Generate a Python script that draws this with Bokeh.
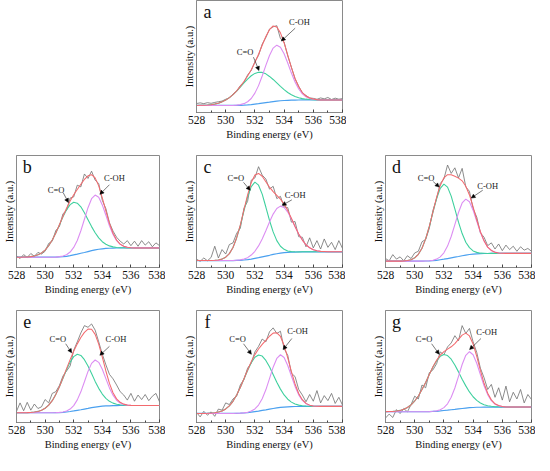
import numpy as np
from bokeh.plotting import figure
from bokeh.models import Range1d, Label, Arrow, NormalHead, Spacer, ColumnDataSource, FixedTicker
from bokeh.layouts import row, column
from bokeh.embed import file_html
from bokeh.resources import INLINE

# ---------------- data ----------------
EV = [528.0, 528.25, 528.5, 528.75, 529.0, 529.25, 529.5, 529.75, 530.0, 530.25,
      530.5, 530.75, 531.0, 531.25, 531.5, 531.75, 532.0, 532.25, 532.5, 532.75,
      533.0, 533.25, 533.5, 533.75, 534.0, 534.25, 534.5, 534.75, 535.0, 535.25,
      535.5, 535.75, 536.0, 536.25, 536.5, 536.75, 537.0, 537.25, 537.5, 537.75, 538.0]
X_TICKS = [528, 530, 532, 534, 536, 538]
X_MINOR = [529, 531, 533, 535, 537]
X_LABEL = "Binding energy (eV)"
Y_LABEL = "Intensity (a.u.)"
PEAK_CO = "C=O"
PEAK_COH = "C-OH"

# panel a
A_BG = [6.3, 6.3, 6.3, 6.3, 6.3, 6.3, 6.3, 6.3, 6.3, 6.3, 6.3, 6.35, 6.45, 6.6, 6.8, 7.1, 7.5, 7.9, 8.4, 8.8,
        9.2, 9.7, 10.1, 10.5, 10.7, 10.9, 11.0, 11.1, 11.15, 11.2, 11.2, 11.2, 11.2, 11.2, 11.2, 11.2, 11.2, 11.2, 11.2, 11.2, 11.2]
A_CO = [0, 0.1, 0.2, 0.4, 0.7, 1.2, 2.0, 3.2, 4.8, 7.0, 9.7, 12.8, 16.3, 19.8, 23.0, 25.7, 27.4, 28.0, 27.4, 25.7,
        23.0, 19.8, 16.3, 12.8, 9.7, 7.0, 4.8, 3.2, 2.0, 1.2, 0.7, 0.4, 0.2, 0.1, 0, 0, 0, 0, 0, 0, 0]
A_COH = [0, 0, 0, 0, 0, 0, 0, 0, 0, 0, 0, 0.2, 0.6, 1.3, 2.8, 5.4, 9.8, 16.1, 24.2, 33.3,
         41.7, 47.8, 50.0, 47.8, 41.7, 33.3, 24.2, 16.1, 9.8, 5.4, 2.8, 1.3, 0.6, 0.2, 0, 0, 0, 0, 0, 0, 0]
A_RAW = [8.0, 8.6, 7.9, 8.8, 8.2, 9.0, 9.6, 10.2, 11.8, 13.0, 16.5, 19.0, 24.0, 27.0, 33.5, 37.5, 45.5, 51.0, 61.0, 67.0,
         74.5, 76.5, 77.5, 66.0, 63.0, 50.5, 40.5, 30.0, 23.5, 17.5, 15.2, 13.0, 12.6, 11.8, 13.0, 12.2, 13.4, 11.6, 12.8, 11.9, 12.4]

# panel b
B_BG = [9.2, 9.2, 9.2, 9.2, 9.2, 9.2, 9.2, 9.2, 9.2, 9.2, 9.2, 9.3, 9.5, 9.7, 10.0, 10.6, 11.3, 11.9, 12.7, 13.4,
        14.2, 15.0, 15.7, 16.3, 16.7, 17.0, 17.2, 17.3, 17.4, 17.5, 17.5, 17.5, 17.5, 17.5, 17.5, 17.5, 17.5, 17.5, 17.5, 17.5, 17.5]
B_CO = [0, 0, 0.1, 0.2, 0.5, 1.1, 2.1, 3.8, 6.3, 10.2, 15.3, 21.5, 28.5, 35.5, 41.5, 45.5, 47.0, 45.5, 41.5, 35.5,
        28.5, 21.5, 15.3, 10.2, 6.3, 3.8, 2.1, 1.1, 0.5, 0.2, 0.1, 0, 0, 0, 0, 0, 0, 0, 0, 0, 0]
B_COH = [0, 0, 0, 0, 0, 0, 0, 0, 0, 0, 0, 0, 0.2, 0.5, 1.4, 3.2, 6.6, 12.2, 20.1, 29.7,
         39.2, 46.4, 49.0, 46.4, 39.2, 29.7, 20.1, 12.2, 6.6, 3.2, 1.4, 0.5, 0.2, 0, 0, 0, 0, 0, 0, 0, 0]
B_RAW = [10.5, 8.0, 11.5, 9.0, 12.5, 10.0, 13.5, 12.0, 14.5, 21.5, 23.5, 33.0, 36.5, 48.0, 51.0, 62.0, 63.0, 73.5, 72.0, 83.5,
         79.5, 86.0, 78.0, 75.0, 60.0, 52.5, 40.0, 32.5, 27.0, 23.5, 21.0, 24.0, 19.5, 23.5, 19.0, 24.0, 20.0, 23.0, 18.5, 22.0, 19.5]

# panel c
C_BG = [6.2, 6.2, 6.2, 6.2, 6.2, 6.2, 6.2, 6.2, 6.2, 6.2, 6.2, 6.3, 6.4, 6.7, 7.0, 7.5, 8.2, 8.8, 9.5, 10.2,
        10.9, 11.7, 12.3, 12.8, 13.2, 13.5, 13.7, 13.8, 13.9, 14.0, 14.0, 14.0, 14.0, 14.0, 14.0, 14.0, 14.0, 14.0, 14.0, 14.0, 14.0]
C_CO = [0, 0, 0, 0, 0, 0.2, 0.5, 1.3, 3.0, 6.2, 11.7, 20.1, 31.1, 43.8, 56.0, 64.7, 68.0, 64.7, 56.0, 43.8,
        31.1, 20.1, 11.7, 6.2, 3.0, 1.3, 0.5, 0.2, 0, 0, 0, 0, 0, 0, 0, 0, 0, 0, 0, 0, 0]
C_COH = [0, 0, 0, 0, 0, 0, 0, 0, 0, 0, 0, 0.2, 0.4, 0.9, 1.8, 3.6, 6.3, 10.5, 16.0, 22.6,
         29.7, 36.0, 40.4, 42.0, 40.4, 36.0, 29.7, 22.6, 16.0, 10.5, 6.3, 3.6, 1.8, 0.9, 0.4, 0.2, 0, 0, 0, 0, 0]
C_RAW = [7.5, 5.5, 8.5, 6.0, 9.0, 19.0, 8.5, 16.0, 12.0, 20.5, 22.0, 30.5, 35.0, 53.0, 59.0, 78.0, 80.0, 90.0, 82.5, 79.0,
         70.0, 72.5, 61.5, 63.5, 54.0, 53.5, 40.5, 41.0, 27.5, 27.0, 18.5, 26.5, 17.5, 24.0, 16.5, 25.5, 18.0, 22.5, 16.0, 24.0, 17.0]

# panel d
D_BG = [5.7, 5.7, 5.7, 5.7, 5.7, 5.7, 5.7, 5.7, 5.7, 5.7, 5.7, 5.8, 5.9, 6.1, 6.4, 6.9, 7.4, 8.0, 8.6, 9.2,
        9.8, 10.5, 11.1, 11.6, 11.9, 12.2, 12.3, 12.5, 12.5, 12.6, 12.6, 12.6, 12.6, 12.6, 12.6, 12.6, 12.6, 12.6, 12.6, 12.6, 12.6]
D_CO = [0, 0, 0, 0, 0, 0.2, 0.5, 1.3, 2.9, 6.1, 11.5, 19.8, 30.7, 43.1, 55.1, 63.8, 67.0, 63.8, 55.1, 43.1,
        30.7, 19.8, 11.5, 6.1, 2.9, 1.3, 0.5, 0.2, 0, 0, 0, 0, 0, 0, 0, 0, 0, 0, 0, 0, 0]
D_COH = [0, 0, 0, 0, 0, 0, 0, 0, 0, 0, 0, 0, 0.1, 0.4, 1.1, 2.6, 5.7, 11.1, 19.1, 29.1,
         39.3, 47.1, 50.0, 47.1, 39.3, 29.1, 19.1, 11.1, 5.7, 2.6, 1.1, 0.4, 0.1, 0, 0, 0, 0, 0, 0, 0, 0]
D_RAW = [8.0, 6.0, 11.5, 7.5, 9.5, 6.0, 10.5, 8.0, 13.0, 14.5, 23.0, 25.0, 35.0, 51.0, 61.5, 75.0, 79.0, 91.5, 84.0, 89.0,
         80.0, 88.5, 72.0, 68.0, 52.5, 45.0, 31.0, 27.0, 19.5, 22.0, 16.5, 21.0, 15.0, 20.0, 16.0, 19.0, 14.5, 18.5, 15.5, 17.0, 14.5]

# panel e
E_BG = [8.7, 8.7, 8.7, 8.7, 8.7, 8.7, 8.7, 8.7, 8.7, 8.7, 8.7, 8.8, 8.9, 9.1, 9.4, 9.8, 10.3, 10.9, 11.4, 12.0,
        12.6, 13.3, 13.8, 14.2, 14.6, 14.8, 14.9, 15.1, 15.1, 15.2, 15.2, 15.2, 15.2, 15.2, 15.2, 15.2, 15.2, 15.2, 15.2, 15.2, 15.2]
E_CO = [0, 0, 0, 0.1, 0.3, 0.6, 1.2, 2.2, 4.0, 6.8, 10.8, 16.3, 22.9, 30.4, 37.8, 44.1, 48.5, 50.0, 48.5, 44.1,
        37.8, 30.4, 22.9, 16.3, 10.8, 6.8, 4.0, 2.2, 1.2, 0.6, 0.3, 0.1, 0, 0, 0, 0, 0, 0, 0, 0, 0]
E_COH = [0, 0, 0, 0, 0, 0, 0, 0, 0, 0, 0, 0, 0.1, 0.3, 0.9, 2.2, 4.8, 9.3, 16.0, 24.4,
         33.0, 39.5, 42.0, 39.5, 33.0, 24.4, 16.0, 9.3, 4.8, 2.2, 0.9, 0.3, 0.1, 0, 0, 0, 0, 0, 0, 0, 0]
E_RAW = [10.0, 17.5, 10.5, 18.0, 11.0, 16.5, 12.5, 14.0, 20.5, 17.5, 26.0, 27.5, 33.0, 41.5, 46.0, 50.5, 64.5, 72.0, 80.0, 86.5,
         85.0, 88.0, 82.5, 72.0, 61.0, 51.5, 43.0, 39.0, 33.5, 27.5, 24.5, 20.0, 26.0, 19.0, 24.5, 20.5, 25.0, 19.5, 23.5, 26.0, 18.5]

# panel f
F_BG = [8.1, 8.1, 8.1, 8.1, 8.1, 8.1, 8.1, 8.1, 8.1, 8.1, 8.1, 8.2, 8.3, 8.5, 8.7, 9.2, 9.7, 10.2, 10.8, 11.3,
        11.9, 12.5, 13.0, 13.5, 13.8, 14.0, 14.2, 14.3, 14.3, 14.4, 14.4, 14.4, 14.4, 14.4, 14.4, 14.4, 14.4, 14.4, 14.4, 14.4, 14.4]
F_CO = [0, 0, 0, 0.1, 0.3, 0.6, 1.2, 2.2, 4.0, 6.8, 10.8, 16.3, 22.9, 30.4, 37.8, 44.1, 48.5, 50.0, 48.5, 44.1,
        37.8, 30.4, 22.9, 16.3, 10.8, 6.8, 4.0, 2.2, 1.2, 0.6, 0.3, 0.1, 0, 0, 0, 0, 0, 0, 0, 0, 0]
F_COH = [0, 0, 0, 0, 0, 0, 0, 0, 0, 0, 0, 0, 0, 0.1, 0.4, 1.0, 2.4, 5.4, 10.4, 17.9,
         27.3, 36.9, 44.2, 47.0, 44.2, 36.9, 27.3, 17.9, 10.4, 5.4, 2.4, 1.0, 0.4, 0.1, 0, 0, 0, 0, 0, 0, 0]
F_RAW = [9.0, 5.0, 10.0, 6.5, 9.5, 5.5, 12.0, 11.0, 17.5, 16.0, 21.0, 23.5, 33.5, 38.5, 48.5, 53.0, 63.0, 68.0, 74.5, 72.0,
         81.0, 84.5, 79.5, 81.5, 66.0, 60.0, 44.0, 41.0, 29.5, 24.5, 18.5, 25.0, 19.0, 28.5, 17.5, 24.0, 19.5, 26.0, 17.0, 22.5, 15.5]

# panel g
G_BG = [9.6, 9.6, 9.6, 9.6, 9.6, 9.6, 9.6, 9.6, 9.6, 9.6, 9.6, 9.6, 9.7, 9.9, 10.0, 10.3, 10.7, 11.0, 11.4, 11.7,
        12.1, 12.5, 12.9, 13.2, 13.4, 13.6, 13.6, 13.7, 13.8, 13.8, 13.8, 13.8, 13.8, 13.8, 13.8, 13.8, 13.8, 13.8, 13.8, 13.8, 13.8]
G_CO = [0.1, 0.2, 0.3, 0.7, 1.2, 2.2, 3.8, 6.2, 9.6, 14.1, 19.8, 26.2, 33.1, 39.7, 45.1, 48.8, 50.0, 48.8, 45.1, 39.7,
        33.1, 26.2, 19.8, 14.1, 9.6, 6.2, 3.8, 2.2, 1.2, 0.7, 0.3, 0.2, 0.1, 0, 0, 0, 0, 0, 0, 0, 0]
G_COH = [0, 0, 0, 0, 0, 0, 0, 0, 0, 0, 0, 0, 0, 0.1, 0.4, 1.1, 2.6, 5.7, 11.1, 19.1,
         29.1, 39.3, 47.1, 50.0, 47.1, 39.3, 29.1, 19.1, 11.1, 5.7, 2.6, 1.1, 0.4, 0.1, 0, 0, 0, 0, 0, 0, 0]
G_RAW = [4.0, 7.5, 4.5, 11.5, 8.0, 12.5, 9.5, 16.0, 23.5, 21.0, 33.5, 31.0, 44.5, 47.0, 52.5, 63.0, 60.5, 67.5, 71.0, 77.5,
         73.0, 86.5, 79.5, 84.0, 72.0, 62.5, 48.5, 40.0, 29.5, 34.0, 22.5, 31.0, 20.0, 32.5, 18.5, 27.0, 21.0, 29.5, 17.5, 25.0, 20.5]

# annotation anchors (text x, y ; arrow x0, y0, x1, y1)
ANNOT = {
    "a": ((531.33, 53.7), (531.9, 49.4, 532.28, 37.5), (535.05, 81.0), (534.76, 75.3, 533.81, 63.8)),
    "b": ((530.77, 69.6), (531.27, 66.7, 531.63, 58.0), (534.85, 80.2), (534.5, 73.9, 533.83, 65.3)),
    "c": ((530.7, 80.3), (531.22, 76.0, 531.68, 69.0), (534.76, 64.7), (534.53, 60.4, 533.86, 55.5)),
    "d": ((530.78, 80.3), (531.27, 76.7, 531.68, 71.8), (535.0, 73.2), (534.66, 69.0, 533.87, 62.0)),
    "e": ((530.89, 74.5), (531.44, 70.3, 531.86, 62.2), (534.95, 74.5), (534.5, 68.0, 533.83, 60.0)),
    "f": ((530.82, 74.5), (531.22, 70.3, 531.76, 60.9), (534.92, 81.6), (534.53, 75.0, 533.93, 65.1)),
    "g": ((530.64, 74.5), (531.16, 70.3, 531.68, 60.9), (534.93, 80.8), (534.54, 75.0, 533.76, 65.1)),
}

PANELS = {
    "a": (A_BG, A_CO, A_COH, A_RAW),
    "b": (B_BG, B_CO, B_COH, B_RAW),
    "c": (C_BG, C_CO, C_COH, C_RAW),
    "d": (D_BG, D_CO, D_COH, D_RAW),
    "e": (E_BG, E_CO, E_COH, E_RAW),
    "f": (F_BG, F_CO, F_COH, F_RAW),
    "g": (G_BG, G_CO, G_COH, G_RAW),
}

# ---------------- style ----------------
FONT = "Liberation Serif"
C_RAWL = "#6f6f6f"
C_FIT = "#f36a6e"
C_CO = "#3fd09e"
C_COH = "#dc8ef2"
C_BGL = "#4aa0ef"
C_BOX = "#8a8a8a"
FH = 112


def make_panel(letter, fw, left, right, top, bottom):
    bg, co, coh, raw = [np.array(v, dtype=float) for v in PANELS[letter]]
    src = ColumnDataSource(dict(x=EV, bg=bg, co=bg + co, coh=bg + coh, fit=bg + co + coh, raw=raw))
    p = figure(frame_width=fw, frame_height=FH, x_range=Range1d(528, 538), y_range=Range1d(0, 100),
               output_backend="svg", toolbar_location=None,
               min_border_left=left, min_border_right=right, min_border_top=top, min_border_bottom=bottom)
    p.background_fill_color = "white"
    p.border_fill_color = "white"
    p.outline_line_color = C_BOX
    p.outline_line_width = 1
    p.xgrid.visible = False
    p.ygrid.visible = False

    p.line("x", "raw", source=src, color=C_RAWL, line_width=0.8)
    p.line("x", "bg", source=src, color=C_BGL, line_width=1.2)
    p.line("x", "co", source=src, color=C_CO, line_width=1.1)
    p.line("x", "coh", source=src, color=C_COH, line_width=1.1)
    p.line("x", "fit", source=src, color=C_FIT, line_width=1.05)

    xa = p.xaxis[0]
    xa.ticker = FixedTicker(ticks=X_TICKS, minor_ticks=X_MINOR)
    xa.axis_label = X_LABEL
    xa.axis_label_text_font = FONT
    xa.axis_label_text_font_style = "normal"
    xa.axis_label_text_font_size = "10.5px"
    xa.axis_label_text_color = "#111111"
    xa.axis_label_standoff = 2
    xa.major_label_text_font = FONT
    xa.major_label_text_font_size = "11.5px"
    xa.major_label_text_color = "#111111"
    xa.major_label_standoff = 3
    xa.axis_line_color = C_BOX
    xa.major_tick_line_color = "#444444"
    xa.minor_tick_line_color = "#444444"
    xa.major_tick_in = 3
    xa.major_tick_out = 0
    xa.minor_tick_in = 2
    xa.minor_tick_out = 0

    ya = p.yaxis[0]
    ya.ticker = FixedTicker(ticks=[])
    ya.axis_label = Y_LABEL
    ya.axis_label_text_font = FONT
    ya.axis_label_text_font_style = "normal"
    ya.axis_label_text_font_size = "10.5px"
    ya.axis_label_text_color = "#111111"
    ya.axis_label_standoff = 2
    ya.major_label_standoff = 0
    ya.major_tick_out = 0
    ya.major_tick_in = 0
    ya.axis_line_color = C_BOX

    (tx1, ty1), (ax0, ay0, ax1, ay1), (tx2, ty2), (bx0, by0, bx1, by1) = ANNOT[letter]
    p.add_layout(Label(x=528.75, y=90, text=letter, text_font=FONT, text_font_size="18px",
                       text_align="center", text_baseline="middle", text_color="#111111"))
    p.add_layout(Label(x=tx1, y=ty1, text=PEAK_CO, text_font=FONT, text_font_size="8.5px",
                       text_align="center", text_baseline="middle", text_color="#222222"))
    p.add_layout(Label(x=tx2, y=ty2, text=PEAK_COH, text_font=FONT, text_font_size="8.5px",
                       text_align="center", text_baseline="middle", text_color="#222222"))
    for (x0, y0, x1, y1) in [(ax0, ay0, ax1, ay1), (bx0, by0, bx1, by1)]:
        p.add_layout(Arrow(end=NormalHead(size=4, fill_color="black", line_color="black", line_width=0.5),
                           x_start=x0, y_start=y0, x_end=x1, y_end=y1,
                           line_color="#222222", line_width=0.6))
    return p


pa = make_panel("a", 146, 30, 4, 0, 35)
pb = make_panel("b", 143, 15, 6, 8, 35)
pc = make_panel("c", 146, 31, 3, 8, 35)
pd_ = make_panel("d", 146, 40, 4, 8, 35)
pe = make_panel("e", 143, 15, 6, 8, 33)
pf = make_panel("f", 146, 31, 3, 8, 33)
pg = make_panel("g", 146, 40, 4, 8, 33)

layout = column(
    row(Spacer(width=166, height=10), pa, spacing=0),
    row(pb, pc, pd_, spacing=0),
    row(pe, pf, pg, spacing=0),
    spacing=0,
)

open("out.html", "w").write(file_html(layout, INLINE))
